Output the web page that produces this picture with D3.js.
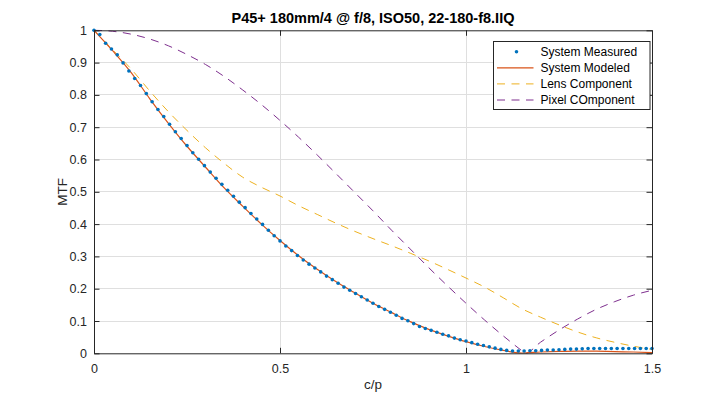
<!DOCTYPE html>
<html>
<head>
<meta charset="utf-8">
<script src="https://cdn.jsdelivr.net/npm/d3@7"></script>
<style>
  html, body { margin: 0; padding: 0; background: #fff; }
  svg { display: block; font-family: "Liberation Sans", Arial, Helvetica, sans-serif; }
</style>
</head>
<body>
<svg id="chart" width="720" height="398"></svg>
<script>
// ---------- data ----------
const titleText = "P45+ 180mm/4 @ f/8, ISO50, 22-180-f8.IIQ";
const xLabel = "c/p";
const yLabel = "MTF";
const xTicks = [0, 0.5, 1, 1.5];
const xTickLabels = ["0", "0.5", "1", "1.5"];
const yTicks = [0, 0.1, 0.2, 0.3, 0.4, 0.5, 0.6, 0.7, 0.8, 0.9, 1];
const yTickLabels = ["0", "0.1", "0.2", "0.3", "0.4", "0.5", "0.6", "0.7", "0.8", "0.9", "1"];
const seriesNames = ["System Measured", "System Modeled", "Lens Component", "Pixel COmponent"];

// measured samples every 1/64 c/p
const measuredStep = 1 / 64;
const measuredValues = [
  1.000, 0.987, 0.960, 0.942, 0.924, 0.899, 0.874, 0.851, 0.829, 0.804,
  0.779, 0.755, 0.733, 0.709, 0.686, 0.665, 0.643, 0.621, 0.601, 0.581,
  0.561, 0.542, 0.523, 0.505, 0.486, 0.468, 0.451, 0.433, 0.416, 0.399,
  0.381, 0.364, 0.348, 0.332, 0.318, 0.303, 0.289, 0.276, 0.264, 0.252,
  0.239, 0.228, 0.217, 0.205, 0.195, 0.185, 0.175, 0.165, 0.155, 0.145,
  0.136, 0.127, 0.118, 0.108, 0.101, 0.092, 0.083, 0.077, 0.071, 0.065,
  0.059, 0.054, 0.047, 0.042, 0.038, 0.033, 0.028, 0.024, 0.020, 0.016,
  0.012, 0.009, 0.007, 0.007, 0.007, 0.008, 0.008, 0.009, 0.010, 0.010,
  0.011, 0.012, 0.013, 0.013, 0.014, 0.015, 0.015, 0.015, 0.015, 0.015,
  0.015, 0.015, 0.015, 0.015, 0.015, 0.015, 0.015
];

// component curves, read every 0.05 c/p
const componentFreq = [
  0, 0.05, 0.10, 0.15, 0.20, 0.25, 0.30, 0.35, 0.40, 0.45,
  0.50, 0.55, 0.60, 0.65, 0.70, 0.75, 0.80, 0.85, 0.90, 0.95,
  1.00, 1.05, 1.10, 1.15, 1.20, 1.25, 1.30, 1.35, 1.40, 1.45, 1.50
];
const modeledValues = [
  1.000, 0.937, 0.869, 0.788, 0.712, 0.641, 0.576, 0.512, 0.455, 0.400,
  0.349, 0.302, 0.260, 0.222, 0.188, 0.155, 0.126, 0.098, 0.074, 0.054,
  0.036, 0.021, 0.009, 0.001, 0.004, 0.006, 0.007, 0.0065, 0.005, 0.004, 0.002
];
const lensValues = [
  1.000, 0.940, 0.880, 0.812, 0.748, 0.690, 0.636, 0.588, 0.545, 0.514,
  0.487, 0.457, 0.430, 0.403, 0.378, 0.355, 0.333, 0.310, 0.286, 0.260,
  0.233, 0.205, 0.172, 0.138, 0.112, 0.088, 0.066, 0.048, 0.034, 0.022, 0.012
];
const pixelFreq = [
  0, 0.05, 0.10, 0.15, 0.20, 0.25, 0.30, 0.35, 0.40, 0.45,
  0.50, 0.55, 0.60, 0.65, 0.70, 0.75, 0.80, 0.85, 0.90, 0.95,
  1.00, 1.05, 1.10, 1.15, 1.159, 1.20, 1.25, 1.30, 1.35, 1.40, 1.45, 1.50
];
const pixelValues = [
  1.000, 0.997, 0.988, 0.973, 0.952, 0.925, 0.894, 0.857, 0.815, 0.770,
  0.721, 0.669, 0.614, 0.557, 0.499, 0.441, 0.381, 0.323, 0.265, 0.209,
  0.155, 0.103, 0.054, 0.008, 0.000, 0.034, 0.072, 0.106, 0.136, 0.160, 0.180, 0.195
];

// ---------- layout ----------
const W = 720, H = 398;
const plotLeft = 94, plotRight = 652, plotTop = 30.3, plotBottom = 353.3;
const colMeasured = "#0072BD", colModeled = "#D95319", colLens = "#EDB120", colPixel = "#7E2F8E";
const axisColor = "#262626", gridColor = "#dfdfdf";
const dash = "8,6.5";

const svg = d3.select("#chart");
const x = d3.scaleLinear().domain([0, 1.5]).range([plotLeft, plotRight]);
const y = d3.scaleLinear().domain([0, 1]).range([plotBottom, plotTop]);

svg.append("rect").attr("x", 0).attr("y", 0).attr("width", W).attr("height", H).attr("fill", "#fff");

// grid
const grid = svg.append("g");
grid.selectAll("line.gx").data(xTicks.slice(1, -1)).join("line")
  .attr("x1", d => x(d)).attr("x2", d => x(d)).attr("y1", plotTop).attr("y2", plotBottom)
  .attr("stroke", gridColor).attr("stroke-width", 1).attr("shape-rendering", "crispEdges");
grid.selectAll("line.gy").data(yTicks.slice(1, -1)).join("line")
  .attr("y1", d => y(d)).attr("y2", d => y(d)).attr("x1", plotLeft).attr("x2", plotRight)
  .attr("stroke", gridColor).attr("stroke-width", 1).attr("shape-rendering", "crispEdges");

// clip
svg.append("clipPath").attr("id", "clip").append("rect")
  .attr("x", plotLeft - 3).attr("y", plotTop - 3)
  .attr("width", plotRight - plotLeft + 6).attr("height", plotBottom - plotTop + 6);
const plot = svg.append("g").attr("clip-path", "url(#clip)");

const lineGen = d3.line().x(d => x(d[0])).y(d => y(d[1])).curve(d3.curveMonotoneX);
const zip = (xs, ys) => xs.map((v, i) => [v, ys[i]]);

plot.append("path").datum(zip(pixelFreq, pixelValues))
  .attr("d", lineGen).attr("fill", "none").attr("stroke", colPixel)
  .attr("stroke-width", 1).attr("stroke-dasharray", dash);
plot.append("path").datum(zip(componentFreq, lensValues))
  .attr("d", lineGen).attr("fill", "none").attr("stroke", colLens)
  .attr("stroke-width", 1).attr("stroke-dasharray", dash);
plot.append("path").datum(zip(componentFreq, modeledValues))
  .attr("d", lineGen).attr("fill", "none").attr("stroke", colModeled)
  .attr("stroke-width", 1.2);
plot.selectAll("circle.m").data(measuredValues).join("circle")
  .attr("cx", (d, i) => x(i * measuredStep)).attr("cy", d => y(d))
  .attr("r", 1.8).attr("fill", colMeasured);

// axes
const tickLen = 5.5;
const fmtX = d => xTickLabels[xTicks.indexOf(d)];
const fmtY = d => yTickLabels[yTicks.indexOf(d)];

const axB = svg.append("g").attr("transform", `translate(0,${plotBottom})`)
  .call(d3.axisBottom(x).tickValues(xTicks).tickFormat(fmtX).tickSizeInner(-tickLen).tickSizeOuter(0).tickPadding(11));
const axT = svg.append("g").attr("transform", `translate(0,${plotTop})`)
  .call(d3.axisTop(x).tickValues(xTicks).tickFormat("").tickSizeInner(-tickLen).tickSizeOuter(0));
const axL = svg.append("g").attr("transform", `translate(${plotLeft},0)`)
  .call(d3.axisLeft(y).tickValues(yTicks).tickFormat(fmtY).tickSizeInner(-tickLen).tickSizeOuter(0).tickPadding(7));
const axR = svg.append("g").attr("transform", `translate(${plotRight},0)`)
  .call(d3.axisRight(y).tickValues(yTicks).tickFormat("").tickSizeInner(-tickLen).tickSizeOuter(0));

[axB, axT, axL, axR].forEach(g => {
  g.selectAll("path.domain").attr("stroke", axisColor).attr("stroke-width", 1);
  g.selectAll(".tick line").attr("stroke", axisColor).attr("stroke-width", 1);
  g.selectAll("text").attr("fill", axisColor)
    .style("font-family", '"Liberation Sans", Arial, Helvetica, sans-serif').style("font-size", "12.5px");
});

// title & labels
svg.append("text").attr("x", (plotLeft + plotRight) / 2).attr("y", 23)
  .attr("text-anchor", "middle").attr("font-size", 14.5).attr("font-weight", "bold")
  .attr("fill", "#000").text(titleText);
svg.append("text").attr("x", (plotLeft + plotRight) / 2).attr("y", 389)
  .attr("text-anchor", "middle").attr("font-size", 13.5).attr("fill", axisColor).text(xLabel);
svg.append("text").attr("transform", `translate(67,${(plotTop + plotBottom) / 2}) rotate(-90)`)
  .attr("text-anchor", "middle").attr("font-size", 13.5).attr("fill", axisColor).text(yLabel);

// legend
const lg = svg.append("g");
const lgX = 493.5, lgY = 41.5, lgW = 156.5, lgH = 68;
lg.append("rect").attr("x", lgX).attr("y", lgY).attr("width", lgW).attr("height", lgH)
  .attr("fill", "#fff").attr("stroke", axisColor).attr("stroke-width", 1);
const rows = [
  { name: seriesNames[0], type: "dot", color: colMeasured },
  { name: seriesNames[1], type: "solid", color: colModeled },
  { name: seriesNames[2], type: "dash", color: colLens },
  { name: seriesNames[3], type: "dash", color: colPixel }
];
rows.forEach((r, i) => {
  const cy = 51.7 + i * 16.1;
  if (r.type === "dot") {
    lg.append("circle").attr("cx", 516.5).attr("cy", cy).attr("r", 1.8).attr("fill", r.color);
  } else {
    lg.append("line").attr("x1", 497).attr("x2", 533.5).attr("y1", cy).attr("y2", cy)
      .attr("stroke", r.color).attr("stroke-width", r.type === "solid" ? 1.2 : 1)
      .attr("stroke-dasharray", r.type === "dash" ? dash : null);
  }
  lg.append("text").attr("x", 540.5).attr("y", cy).attr("dy", "0.36em")
    .attr("font-size", 12).attr("fill", "#000").text(r.name);
});
</script>
</body>
</html>
